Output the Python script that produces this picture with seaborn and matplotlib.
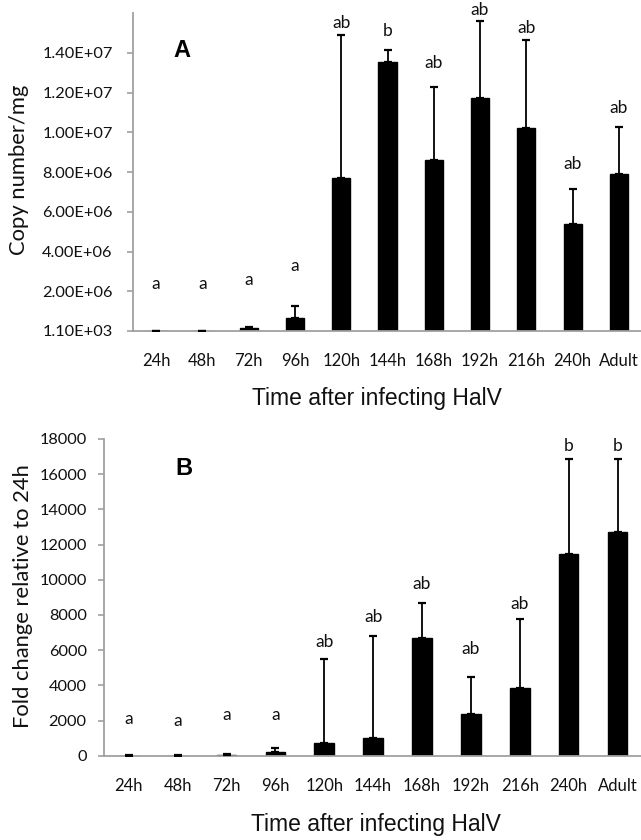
import numpy as np
import pandas as pd
import matplotlib
matplotlib.use("Agg")
import matplotlib.pyplot as plt
import seaborn as sns

# ---------------- data ----------------
categories = ["24h", "48h", "72h", "96h", "120h", "144h", "168h", "192h", "216h", "240h", "Adult"]

copy_mean = [1.0e4, 2.0e4, 1.3e5, 6.4e5, 7.69e6, 13.53e6, 8.60e6, 11.75e6, 10.20e6, 5.39e6, 7.92e6]
copy_err_top = [1.2e4, 2.5e4, 1.9e5, 1.26e6, 14.90e6, 14.15e6, 12.30e6, 15.60e6, 14.65e6, 7.13e6, 10.27e6]
copy_letters = ["a", "a", "a", "a", "ab", "b", "ab", "ab", "ab", "ab", "ab"]
copy_letter_y = [2.13e6, 2.13e6, 2.32e6, 3.04e6, 15.24e6, 14.87e6, 13.23e6, 15.91e6, 14.99e6, 8.14e6, 10.96e6]
copy_ticks = [0, 2e6, 4e6, 6e6, 8e6, 10e6, 12e6, 14e6]
copy_ticklabels = ["1.10E+03", "2.00E+06", "4.00E+06", "6.00E+06", "8.00E+06",
                   "1.00E+07", "1.20E+07", "1.40E+07"]

fold_mean = [10, 10, 60, 230, 740, 990, 6670, 2350, 3870, 11470, 12720]
fold_err_top = [15, 15, 80, 420, 5510, 6790, 8660, 4460, 7790, 16880, 16880]
fold_letters = ["a", "a", "a", "a", "ab", "ab", "ab", "ab", "ab", "b", "b"]
fold_letter_y = [1800, 1710, 2030, 2030, 6200, 7620, 9460, 5780, 8360, 17340, 17340]
fold_ticks = [0, 2000, 4000, 6000, 8000, 10000, 12000, 14000, 16000, 18000]

# ---------------- style ----------------
sns.set_style("white")
plt.rcParams["font.family"] = ["Lato", "DejaVu Sans"]

W, H = 641, 840
fig = plt.figure(figsize=(W / 100, H / 100), dpi=100)

GRAY = "#a0a0a0"
TXT = "#111111"


def px_axes(left, top, right, bottom):
    return fig.add_axes([left / W, 1 - bottom / H, (right - left) / W, (bottom - top) / H])


def panel(ax, means, tops, letters, letter_y, ylim, ticks, ticklabels, width,
          ytick_pad, panel_letter, letter_xy, ylabel, ylabel_xy, xlabel_xy):
    df = pd.DataFrame({"time": categories, "value": means})
    sns.barplot(data=df, x="time", y="value", color="black", width=width,
                saturation=1, errorbar=None, ax=ax, order=categories)
    for p in ax.patches:
        p.set_edgecolor("black")
    x = np.arange(len(categories))
    m = np.array(means, dtype=float)
    t = np.array(tops, dtype=float)
    ax.errorbar(x, m, yerr=[np.zeros_like(m), t - m], fmt="none", ecolor="black",
                elinewidth=1.3, capsize=2.6, capthick=1.6, zorder=3)
    for xi, lab, ly in zip(x, letters, letter_y):
        ax.text(xi, ly, lab, ha="center", va="baseline", fontsize=12.5,
                color=TXT, family=["Lato", "DejaVu Sans"])

    ax.set_xlim(-0.5, len(categories) - 0.5)
    ax.set_ylim(*ylim)
    ax.set_yticks(ticks)
    ax.set_yticklabels(ticklabels if ticklabels is not None else [str(v) for v in ticks])
    ax.set_xticks(x)
    ax.set_xticklabels(categories)
    ax.set_xticks(np.arange(-0.5, len(categories), 1), minor=True)

    for s in ["top", "right"]:
        ax.spines[s].set_visible(False)
    for s in ["left", "bottom"]:
        ax.spines[s].set_color(GRAY)
        ax.spines[s].set_linewidth(1.3)

    ax.tick_params(axis="x", which="major", length=0, pad=16, labelsize=12, labelcolor=TXT)
    ax.tick_params(axis="x", which="minor", length=3.6, width=1.2, color=GRAY, direction="out")
    ax.tick_params(axis="y", which="major", length=4.3, width=1.2, color=GRAY, direction="out",
                   pad=ytick_pad, labelsize=11.8, labelcolor=TXT, left=True)

    ax.set_xlabel("Time after infecting HalV", fontsize=16.5, family=["Liberation Sans", "DejaVu Sans"],
                  color=TXT)
    ax.xaxis.set_label_coords(xlabel_xy[0] / W, 1 - xlabel_xy[1] / H, transform=fig.transFigure)
    ax.xaxis.label.set_va("center")

    ax.set_ylabel(ylabel, fontsize=15.8, color=TXT)
    ax.yaxis.set_label_coords(ylabel_xy[0] / W, 1 - ylabel_xy[1] / H, transform=fig.transFigure)
    ax.yaxis.label.set_va("center")

    fig.text(letter_xy[0] / W, 1 - letter_xy[1] / H, panel_letter, fontsize=17,
             fontweight="bold", family=["Liberation Sans", "DejaVu Sans"],
             ha="center", va="center", color="black")


# Panel A
axA = px_axes(133, 331 - 16 * 19.86, 642, 331)
panel(axA, copy_mean, copy_err_top, copy_letters, copy_letter_y, (0, 1.6e7),
      copy_ticks, copy_ticklabels, 0.39, 10.3, "A", (181.7, 50.5),
      "Copy number/mg", (19, 170), (377, 399))

# Panel B
axB = px_axes(104.3, 439, 642, 755.7)
panel(axB, fold_mean, fold_err_top, fold_letters, fold_letter_y, (0, 18000),
      fold_ticks, None, 0.40, 8.4, "B", (183.7, 468.7),
      "Fold change relative to 24h", (23.5, 596.5), (376, 824))

fig.savefig("out.png", dpi=100)
